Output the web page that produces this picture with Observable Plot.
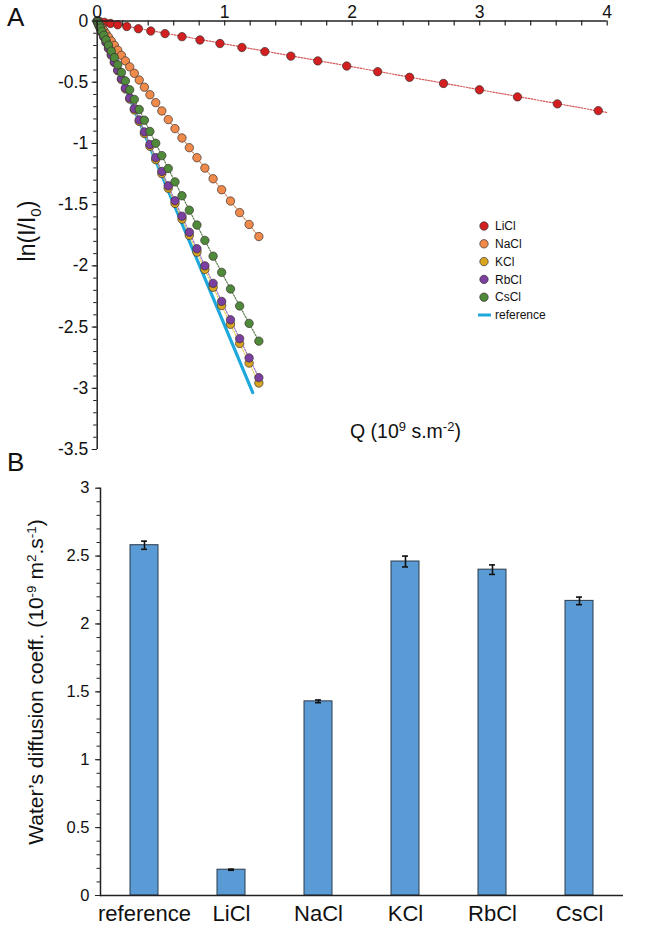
<!DOCTYPE html>
<html><head><meta charset="utf-8">
<script src="https://cdn.jsdelivr.net/npm/d3@7"></script>
<script src="https://cdn.jsdelivr.net/npm/@observablehq/plot@0.6"></script>
<style>
body{margin:0;background:#fff;font-family:"Liberation Sans",Arial,sans-serif;}
#wrap{position:relative;width:664px;height:928px;overflow:hidden;background:#fff;}
#wrap svg{position:absolute;left:0;overflow:visible;}
.letter{position:absolute;font-size:26px;color:#111;line-height:1;}
</style></head><body>
<div id="wrap"><div class="letter" style="left:7px;top:4px">A</div><div class="letter" style="left:7px;top:449px">B</div></div>
<script>
// ---------- Panel A data ----------
const seriesNames = ["LiCl", "NaCl", "KCl", "RbCl", "CsCl"];
const seriesFill = ["#d31f1f", "#f08a4b", "#d9a520", "#7b3fa0", "#4f8a3a"];
const seriesLine = ["#d45a5a", "#cf8a5e", "#e6cf4a", "#9a70c0", "#5f7f52"];
const referenceColor = "#1fa8dc";

const qLiCl = [0.018, 0.057, 0.104, 0.161, 0.232, 0.323, 0.42, 0.532, 0.665, 0.806, 0.963, 1.135, 1.315, 1.519, 1.73, 1.957, 2.2, 2.45, 2.716, 2.998, 3.296, 3.609, 3.93];
const lnLiCl = [-0.004, -0.011, -0.02, -0.031, -0.045, -0.063, -0.082, -0.103, -0.128, -0.155, -0.184, -0.216, -0.25, -0.287, -0.326, -0.368, -0.414, -0.46, -0.51, -0.562, -0.62, -0.677, -0.732];
const fitLiClQ = [0, 4.0];
const fitLiClLn = [0, -0.748];

const qGrid = [0.0005, 0.0032, 0.0083, 0.0158, 0.0256, 0.0378, 0.0524, 0.0694, 0.0888, 0.1106, 0.1347, 0.1612, 0.1901, 0.2214, 0.2550, 0.2911, 0.3295, 0.3703, 0.4134, 0.4590, 0.5069, 0.5573, 0.6100, 0.6650, 0.7225, 0.7823, 0.8446, 0.9092, 0.9761, 1.0455, 1.1172, 1.1914, 1.2679];
const lnNaCl = [-0.0007, -0.0048, -0.0124, -0.0235, -0.0381, -0.0562, -0.0779, -0.1030, -0.1317, -0.1638, -0.1992, -0.2381, -0.2804, -0.3260, -0.3748, -0.4270, -0.4823, -0.5408, -0.6023, -0.6670, -0.7347, -0.8055, -0.8791, -0.9555, -1.0348, -1.1167, -1.2014, -1.2886, -1.3782, -1.4703, -1.5648, -1.6617, -1.7606];
const lnKCl = [-0.0013, -0.0081, -0.0211, -0.0402, -0.0650, -0.0960, -0.1329, -0.1758, -0.2247, -0.2794, -0.3398, -0.4059, -0.4777, -0.5552, -0.6381, -0.7266, -0.8203, -0.9194, -1.0234, -1.1328, -1.2469, -1.3662, -1.4899, -1.6181, -1.7511, -1.8881, -2.0297, -2.1750, -2.3241, -2.4772, -2.6336, -2.7937, -2.9567];
const lnRbCl = [-0.0013, -0.0080, -0.0208, -0.0396, -0.0641, -0.0946, -0.1310, -0.1733, -0.2214, -0.2754, -0.3348, -0.4000, -0.4708, -0.5471, -0.6287, -0.7160, -0.8084, -0.9060, -1.0084, -1.1162, -1.2287, -1.3462, -1.4681, -1.5944, -1.7254, -1.8604, -1.9998, -2.1431, -2.2899, -2.4407, -2.5948, -2.7524, -2.9130];
const lnCsCl = [-0.0011, -0.0072, -0.0186, -0.0354, -0.0572, -0.0845, -0.1170, -0.1548, -0.1978, -0.2460, -0.2992, -0.3575, -0.4208, -0.4891, -0.5621, -0.6402, -0.7229, -0.8103, -0.9021, -0.9987, -1.0995, -1.2049, -1.3143, -1.4277, -1.5453, -1.6667, -1.7920, -1.9209, -2.0531, -2.1889, -2.3278, -2.4700, -2.6150];

const refQ = [0, 1.22];
const refLn = [0, -3.036];

const xTicksA = [0, 1, 2, 3, 4];
const yTicksA = [0, -0.5, -1, -1.5, -2, -2.5, -3, -3.5];

// ---------- Panel B data ----------
const barCats = ["reference", "LiCl", "NaCl", "KCl", "RbCl", "CsCl"];
const barVals = [2.58, 0.19, 1.43, 2.46, 2.40, 2.17];
const barErr = [0.03, 0.004, 0.01, 0.04, 0.035, 0.028];
const yTicksB = [0, 0.5, 1, 1.5, 2, 2.5, 3];

// ---------- build tables ----------
const pts = (qs, ys, name) => qs.map((q, i) => ({Q: q, ln: ys[i], s: name}));
const seriesData = [
  pts(qLiCl, lnLiCl, "LiCl"),
  pts(qGrid, lnNaCl, "NaCl"),
  pts(qGrid, lnKCl, "KCl"),
  pts(qGrid, lnRbCl, "RbCl"),
  pts(qGrid, lnCsCl, "CsCl")
];
const fitLi = pts(fitLiClQ, fitLiClLn, "LiCl");
const refData = pts(refQ, refLn, "reference");
const bars = barCats.map((c, i) => ({cat: c, val: barVals[i], err: barErr[i]}));

const font = "Liberation Sans, Arial, sans-serif";
const axisColor = "#222";
const tickFontA = 17.5;
const tickFontB = 16.5;

// ---------- Panel A ----------
const minorXA = d3.range(0, 4.0001, 0.2);
const minorYA = d3.range(0, 35.5).map(i => -i / 10);

const lineMarks = seriesData.map((d, i) => i === 0
  ? Plot.line(fitLi, {x: "Q", y: "ln", stroke: seriesLine[0], strokeWidth: 1.2, strokeDasharray: "1.5,1.5"})
  : Plot.line(d, {x: "Q", y: "ln", stroke: seriesLine[i], strokeWidth: 1.2, strokeDasharray: "1.5,1.5"}));
const dotMarks = seriesData.map((d, i) =>
  Plot.dot(d, {x: "Q", y: "ln", r: 4.2, fill: seriesFill[i], stroke: "#3a3030", strokeWidth: 0.7}));

const plotA = Plot.plot({
  width: 664, height: 460,
  marginLeft: 96.7, marginRight: 57.3, marginTop: 20.5, marginBottom: 11,
  x: {domain: [0, 4], label: null},
  y: {domain: [-3.5, 0], label: null},
  style: {fontFamily: font, fontSize: "17.5px", color: "#111", background: "transparent", overflow: "visible"},
  marks: [
    Plot.line(refData, {x: "Q", y: "ln", stroke: referenceColor, strokeWidth: 3.2}),
    ...lineMarks,
    ...dotMarks,
    Plot.ruleY([0], {stroke: axisColor, strokeWidth: 1.5}),
    Plot.ruleX([0], {stroke: axisColor, strokeWidth: 1.5}),
    Plot.tickX(minorXA, {x: d => d, insetBottom: 423.5, stroke: axisColor, strokeWidth: 1.2}),
    Plot.axisX(xTicksA, {anchor: "top", tickSize: 0, tickPadding: 3, fontSize: tickFontA, tickFormat: d => String(d), label: null}),
    Plot.axisY(minorYA, {anchor: "left", tickSize: 3.5, tickFormat: () => "", label: null, stroke: axisColor}),
    Plot.axisY(yTicksA, {anchor: "left", tickSize: 5, tickPadding: 4, fontSize: tickFontA, tickFormat: d => String(d), label: null, stroke: axisColor})
  ]
});
plotA.style.top = "0px";
document.getElementById("wrap").appendChild(plotA);

const svgA = d3.select(plotA);
svgA.append("text")
  .attr("transform", "translate(35,231) rotate(-90)")
  .attr("text-anchor", "middle").attr("font-family", font).attr("font-size", 23).attr("fill", "#111")
  .html('ln(I/I<tspan dy="6" font-size="15">0</tspan><tspan dy="-6">)</tspan>');
svgA.append("text")
  .attr("x", 350).attr("y", 438).attr("text-anchor", "start")
  .attr("font-family", font).attr("font-size", 19.5).attr("fill", "#111")
  .html('Q (10<tspan dy="-7" font-size="13">9</tspan><tspan dy="7"> s.m</tspan><tspan dy="-7" font-size="13">-2</tspan><tspan dy="7">)</tspan>');

// legend
const legendItems = seriesNames.map((n, i) => ({name: n, fill: seriesFill[i], kind: "dot"}))
  .concat([{name: "reference", fill: referenceColor, kind: "line"}]);
const lg = svgA.append("g").attr("transform", "translate(484,226)");
legendItems.forEach((it, i) => {
  const g = lg.append("g").attr("transform", `translate(0,${i * 17.8})`);
  if (it.kind === "dot") g.append("circle").attr("r", 4.2).attr("fill", it.fill).attr("stroke", "#3a3030").attr("stroke-width", 0.7);
  else g.append("line").attr("x1", -6).attr("x2", 7).attr("y1", 0).attr("y2", 0).attr("stroke", it.fill).attr("stroke-width", 3);
  g.append("text").attr("x", 11).attr("dy", "0.35em").attr("text-anchor", "start")
    .attr("font-family", font).attr("font-size", 12).attr("fill", "#111").text(it.name);
});

// ---------- Panel B ----------
const minorYB = d3.range(0, 30.5).map(i => i / 10);
const plotB = Plot.plot({
  width: 664, height: 468,
  marginLeft: 100, marginRight: 41, marginTop: 27.7, marginBottom: 33,
  x: {domain: barCats, paddingInner: 0.68, paddingOuter: 0.34, label: null},
  y: {domain: [0, 3], label: null},
  style: {fontFamily: font, fontSize: "16.5px", color: "#111", background: "transparent", overflow: "visible"},
  marks: [
    Plot.barY(bars, {x: "cat", y: "val", fill: "#5b9bd5", stroke: "#2b3a4a", strokeWidth: 1}),
    Plot.ruleX(bars, {x: "cat", y1: d => d.val - d.err, y2: d => d.val + d.err, stroke: "#111", strokeWidth: 1.6}),
    Plot.tickY(bars, {x: "cat", y: d => d.val + d.err, insetLeft: 11, insetRight: 11, stroke: "#111", strokeWidth: 1.6}),
    Plot.tickY(bars, {x: "cat", y: d => d.val - d.err, insetLeft: 11, insetRight: 11, stroke: "#111", strokeWidth: 1.6}),
    Plot.ruleY([0], {stroke: axisColor, strokeWidth: 1.5}),
    Plot.frame({anchor: "left", stroke: axisColor, strokeWidth: 1.5}),
    Plot.axisY(minorYB, {anchor: "left", tickSize: 3.5, tickFormat: () => "", label: null, stroke: axisColor}),
    Plot.axisY(yTicksB, {anchor: "left", tickSize: 5, tickPadding: 6, fontSize: tickFontB, tickFormat: d => String(d), label: null, stroke: axisColor}),
    Plot.axisX({anchor: "bottom", tickSize: 0, tickPadding: 10, fontSize: 22, label: null})
  ]
});
plotB.style.top = "460px";
document.getElementById("wrap").appendChild(plotB);
d3.select(plotB).append("text")
  .attr("transform", "translate(43,222) rotate(-90)")
  .attr("text-anchor", "middle").attr("font-family", font).attr("font-size", 21).attr("fill", "#111")
  .html('Water\u2019s diffusion coeff. (10<tspan dy="-7" font-size="13.5">-9</tspan><tspan dy="7"> m</tspan><tspan dy="-7" font-size="13.5">2</tspan><tspan dy="7">.s</tspan><tspan dy="-7" font-size="13.5">-1</tspan><tspan dy="7">)</tspan>');
</script>
</body></html>
